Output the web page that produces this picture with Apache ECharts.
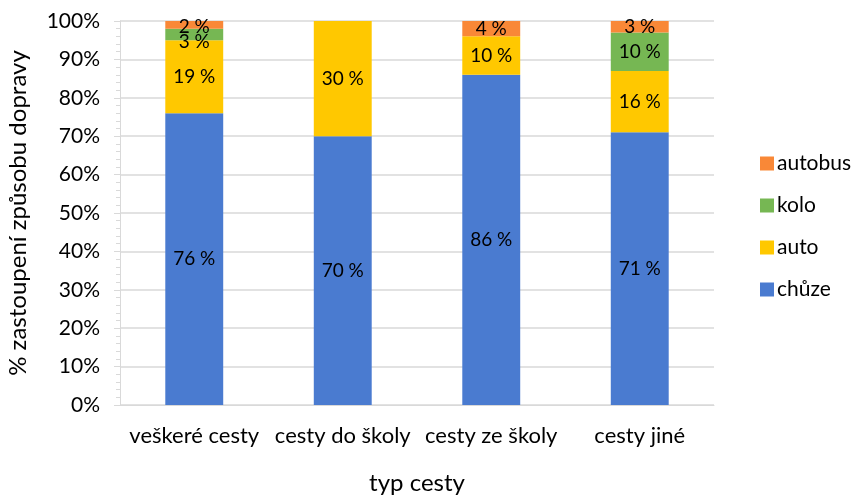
<!DOCTYPE html>
<html>
<head>
<meta charset="utf-8">
<script src="https://cdn.jsdelivr.net/npm/echarts@6/dist/echarts.min.js"></script>
<style>
  html, body { margin: 0; padding: 0; background: #fff; }
  #chart { width: 858px; height: 497px; }
</style>
</head>
<body>
<div id="chart"></div>
<script>
// Podíl způsobů dopravy podle typu cesty (%)
const categories = ['veškeré cesty', 'cesty do školy', 'cesty ze školy', 'cesty jiné'];
const chuze   = [76, 70, 86, 71];
const auto    = [19, 30, 10, 16];
const kolo    = [3, 0, 0, 10];
const autobus = [2, 0, 4, 3];
const yTicks  = [0, 10, 20, 30, 40, 50, 60, 70, 80, 90, 100];

const FONT = 'Lato, "Open Sans", sans-serif';

function seriesOf(name, values, color, labelShift) {
  return {
    name: name,
    type: 'bar',
    stack: 'total',
    // thin segments get their label nudged so neighbouring labels do not collide
    data: values.map((v, i) => {
      const shift = labelShift ? labelShift[i] : 0;
      return shift ? { value: v, label: { offset: [0, shift] } } : v;
    }),
    barWidth: '39%',
    itemStyle: { color: color },
    label: {
      show: true,
      position: 'inside',
      color: '#000',
      fontFamily: FONT,
      fontSize: 19,
      formatter: p => (p.value > 0 ? p.value + ' %' : '')
    },
    emphasis: { disabled: true }
  };
}

const chart = echarts.init(document.getElementById('chart'), null, { renderer: 'canvas' });
chart.setOption({
  animation: false,
  textStyle: { fontFamily: FONT },
  grid: { left: 120, right: 144, top: 21, bottom: 92, outerBoundsMode: 'none', containLabel: false },
  legend: {
    orient: 'vertical',
    left: 755,
    top: 148,
    itemGap: 21,
    itemWidth: 14,
    itemHeight: 14,
    icon: 'rect',
    data: ['autobus', 'kolo', 'auto', 'chůze'],
    textStyle: { fontSize: 21, color: '#000', fontFamily: FONT, padding: [0, 0, 0, -2] }
  },
  xAxis: {
    type: 'category',
    data: categories,
    name: 'typ cesty',
    nameLocation: 'middle',
    nameGap: 66,
    nameTextStyle: { fontSize: 24, color: '#000', fontFamily: FONT },
    axisLine: { lineStyle: { color: '#d9d9d9', width: 1 } },
    axisTick: { show: false },
    axisLabel: { fontSize: 22, color: '#000', margin: 20, fontFamily: FONT, interval: 0 }
  },
  yAxis: {
    type: 'value',
    min: yTicks[0],
    max: yTicks[yTicks.length - 1],
    interval: 10,
    name: '% zastoupení způsobu dopravy',
    nameLocation: 'middle',
    nameGap: 90,
    nameRotate: 90,
    nameTextStyle: { fontSize: 24, color: '#000', fontFamily: FONT },
    axisLine: { show: true, lineStyle: { color: '#d9d9d9' } },
    axisTick: { show: true, inside: false, length: 6, lineStyle: { color: '#d9d9d9' } },
    minorTick: { show: true, splitNumber: 5, length: 4, lineStyle: { color: '#d9d9d9' } },
    splitLine: { lineStyle: { color: '#d9d9d9', width: 1.5 } },
    axisLabel: { fontSize: 21, color: '#000', margin: 20, fontFamily: FONT, formatter: '{value}%' }
  },
  series: [
    seriesOf('chůze', chuze, '#4a7bd0'),
    seriesOf('auto', auto, '#ffc800'),
    seriesOf('kolo', kolo, '#76b753', [7, 0, 0, 0]),
    seriesOf('autobus', autobus, '#f98837', [2, 0, 0, 0])
  ]
});
</script>
</body>
</html>
